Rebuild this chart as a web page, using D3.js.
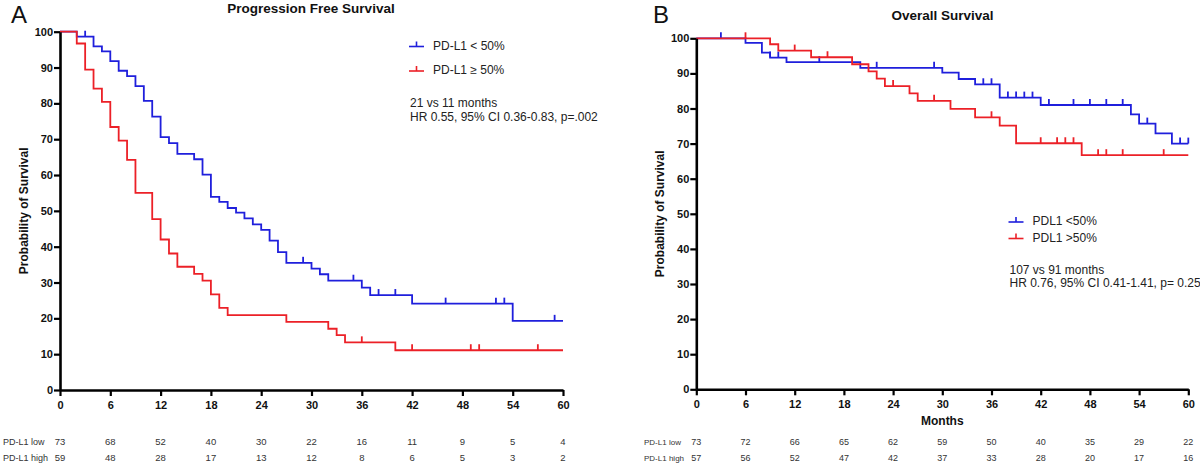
<!DOCTYPE html>
<html>
<head>
<meta charset="utf-8">
<script src="https://cdn.jsdelivr.net/npm/d3@7"></script>
<style>
  body { margin: 0; background: #fff; }
  svg { display: block; font-family: Arial, "Liberation Sans", sans-serif; }
</style>
</head>
<body>
<svg id="chart" width="1200" height="465"></svg>
<script>
// ---- data (months, % survival) ----
var monthTicks = [0, 6, 12, 18, 24, 30, 36, 42, 48, 54, 60];
var survTicks = [0, 10, 20, 30, 40, 50, 60, 70, 80, 90, 100];

// A: progression free survival
var pfsLowTimes = [0, 2, 4, 5, 6, 7, 8, 9, 10, 11, 12, 13, 14, 16, 17, 18, 19, 20, 21, 22, 23, 24, 25, 26, 27, 30, 31, 32, 36, 37, 42, 54];
var pfsLowSurv = [100, 98.6, 95.9, 94.5, 91.8, 89.1, 87.6, 84.8, 80.7, 76.3, 70.6, 68.9, 65.9, 64.4, 60.1, 53.9, 52.5, 50.8, 49.5, 47.9, 46.2, 44.7, 41.7, 38.5, 35.5, 33.9, 32.3, 30.5, 28.6, 26.5, 24.1, 19.3];
var pfsLowCensor = [3, 29, 35, 38, 40, 46, 52, 53, 59];

var pfsHighTimes = [0, 2, 3, 4, 5, 6, 7, 8, 9, 11, 12, 13, 14, 16, 17, 18, 19, 20, 27, 32, 33, 34, 40];
var pfsHighSurv = [100, 96.7, 89.4, 84.1, 80.4, 73.4, 69.6, 64.2, 55.0, 47.7, 42.0, 38.1, 34.4, 32.4, 30.5, 26.7, 22.9, 20.9, 19.0, 17.1, 15.3, 13.3, 11.1];
var pfsHighCensor = [36, 42, 49, 50, 57];

var pfsLowRisk = [73, 68, 52, 40, 30, 22, 16, 11, 9, 5, 4];
var pfsHighRisk = [59, 48, 28, 17, 13, 12, 8, 6, 5, 3, 2];

// B: overall survival
var osLowTimes = [0, 6, 8, 9, 11, 20, 30, 32, 34, 37, 42, 53, 54, 56, 58];
var osLowSurv = [100, 98.7, 95.9, 94.5, 93.2, 91.6, 90.2, 88.4, 86.9, 83.1, 81.0, 78.3, 75.7, 72.9, 70.0];
var osLowCensor = [3, 9, 10, 15, 22, 29, 35, 36, 38, 39, 40, 41, 43, 46, 48, 50, 52, 55, 59, 60];

var osHighTimes = [0, 9, 10, 14, 19, 21, 22, 23, 26, 27, 31, 34, 37, 39, 47];
var osHighSurv = [100, 98.3, 96.5, 94.6, 92.6, 90.6, 88.5, 86.4, 84.3, 82.2, 79.9, 77.5, 75.1, 70.1, 66.7];
var osHighCensor = [6, 12, 16, 24, 29, 36, 42, 44, 45, 46, 49, 50, 52, 57];

var osLowRisk = [73, 72, 66, 65, 62, 59, 50, 40, 35, 29, 22];
var osHighRisk = [57, 56, 52, 47, 42, 37, 33, 28, 20, 17, 16];

var BLUE = "#1f1fdc", RED = "#ec2027";
var svg = d3.select("#chart");

function survAt(times, surv, t) {
    var i = d3.bisectRight(times, t) - 1;
    return surv[Math.max(i, 0)];
}

function drawPanel(p) {
    var x = d3.scaleLinear().domain([0, 60]).range([p.left, p.right]);
    var y = d3.scaleLinear().domain([0, 100]).range([p.bottom, p.top]);
    var g = svg.append("g");

    // curves
    p.series.forEach(function(s) {
        var pts = s.times.map(function(t, i) { return [t, s.surv[i]]; });
        pts.push([60, s.surv[s.surv.length - 1]]);
        var line = d3.line()
            .x(function(d) { return x(d[0]); })
            .y(function(d) { return y(d[1]); })
            .curve(d3.curveStepAfter);
        g.append("path").attr("d", line(pts))
            .attr("fill", "none").attr("stroke", s.color).attr("stroke-width", 1.8);
        g.selectAll(null).data(s.censor).enter().append("line")
            .attr("x1", function(t) { return x(t); })
            .attr("x2", function(t) { return x(t); })
            .attr("y1", function(t) { return y(survAt(s.times, s.surv, t)); })
            .attr("y2", function(t) { return y(survAt(s.times, s.surv, t)) - 6; })
            .attr("stroke", s.color).attr("stroke-width", 1.8);
    });

    // axes
    var ya = g.append("g").attr("transform", "translate(" + p.left + ",0)")
        .call(d3.axisLeft(y).tickValues(survTicks).tickSize(6).tickSizeOuter(0).tickPadding(1));
    var xa = g.append("g").attr("transform", "translate(0," + p.bottom + ")")
        .call(d3.axisBottom(x).tickValues(monthTicks).tickSize(6).tickSizeOuter(0).tickPadding(5));
    [ya, xa].forEach(function(a) {
        a.select(".domain").attr("stroke", "#000").attr("stroke-width", 2.6);
        a.selectAll(".tick line").attr("stroke", "#000").attr("stroke-width", 2.2);
        a.selectAll(".tick text").attr("fill", "#111").attr("font-size", 11)
            .attr("font-weight", "bold").attr("font-family", "Arial, 'Liberation Sans', sans-serif");
    });

    // y label
    g.append("text")
        .attr("transform", "translate(" + p.ylabelX + "," + ((p.top + p.bottom) / 2) + ") rotate(-90)")
        .attr("text-anchor", "middle").attr("font-size", 12).attr("font-weight", "bold")
        .attr("fill", "#111").text("Probability of Survival");

    if (p.xlabel) {
        g.append("text").attr("x", x(30)).attr("y", p.bottom + 36)
            .attr("text-anchor", "middle").attr("font-size", 12).attr("font-weight", "bold")
            .attr("fill", "#111").text(p.xlabel);
    }

    // title and panel letter
    g.append("text").attr("x", p.titleX).attr("y", p.titleY)
        .attr("text-anchor", "middle").attr("font-size", 13.5).attr("font-weight", "bold")
        .attr("fill", "#111").text(p.title);
    g.append("text").attr("x", p.letterX).attr("y", 22.5)
        .attr("font-size", 24).attr("fill", "#111").text(p.letter);

    // legend
    p.series.forEach(function(s, i) {
        var ly = p.legendY + i * p.legendGap;
        g.append("line").attr("x1", p.legendX).attr("x2", p.legendX + 15)
            .attr("y1", ly).attr("y2", ly).attr("stroke", s.color).attr("stroke-width", 1.6);
        g.append("line").attr("x1", p.legendX + 7.5).attr("x2", p.legendX + 7.5)
            .attr("y1", ly).attr("y2", ly - 5).attr("stroke", s.color).attr("stroke-width", 1.6);
        g.append("text").attr("x", p.legendX + 24).attr("y", ly + 3)
            .attr("font-size", 12).attr("fill", "#222").text(s.name);
    });
    p.stats.forEach(function(t, i) {
        g.append("text").attr("x", p.legendX + 1).attr("y", p.statsY + i * p.statsGap)
            .attr("font-size", 12).attr("fill", "#222").text(t);
    });

    // numbers at risk
    p.series.forEach(function(s, i) {
        var ry = 445 + i * 15.7;
        g.append("text").attr("x", p.riskLabelX).attr("y", ry)
            .attr("font-size", p.riskLabelSize).attr("fill", "#333").text(s.riskLabel);
        g.selectAll(null).data(s.risk).enter().append("text")
            .attr("x", function(d, j) { return x(monthTicks[j]); })
            .attr("y", ry)
            .attr("text-anchor", "middle").attr("font-size", p.riskSize).attr("fill", "#333")
            .text(function(d) { return d; });
    });
}

drawPanel({
    left: 60, right: 563, top: 31.7, bottom: 390,
    ylabelX: 28, title: "Progression Free Survival", titleX: 311, titleY: 13,
    letter: "A", letterX: 11,
    legendX: 409, legendY: 46.5, legendGap: 24.5,
    stats: ["21 vs 11 months", "HR 0.55, 95% CI 0.36-0.83, p=.002"], statsY: 107, statsGap: 14,
    riskLabelX: 3, riskLabelSize: 9, riskSize: 9.5,
    series: [
        { name: "PD-L1 < 50%", color: BLUE, times: pfsLowTimes, surv: pfsLowSurv, censor: pfsLowCensor, risk: pfsLowRisk, riskLabel: "PD-L1 low" },
        { name: "PD-L1 \u2265 50%", color: RED, times: pfsHighTimes, surv: pfsHighSurv, censor: pfsHighCensor, risk: pfsHighRisk, riskLabel: "PD-L1 high" }
    ]
});

drawPanel({
    left: 696.3, right: 1188.3, top: 38.3, bottom: 389.3,
    ylabelX: 664, title: "Overall Survival", titleX: 942.5, titleY: 20, xlabel: "Months",
    letter: "B", letterX: 653,
    legendX: 1008.5, legendY: 222, legendGap: 16.5,
    stats: ["107 vs 91 months", "HR 0.76, 95% CI 0.41-1.41, p= 0.25"], statsY: 274, statsGap: 12.5,
    riskLabelX: 644, riskLabelSize: 8, riskSize: 9,
    series: [
        { name: "PDL1 <50%", color: BLUE, times: osLowTimes, surv: osLowSurv, censor: osLowCensor, risk: osLowRisk, riskLabel: "PD-L1 low" },
        { name: "PDL1 >50%", color: RED, times: osHighTimes, surv: osHighSurv, censor: osHighCensor, risk: osHighRisk, riskLabel: "PD-L1 high" }
    ]
});
</script>
</body>
</html>
